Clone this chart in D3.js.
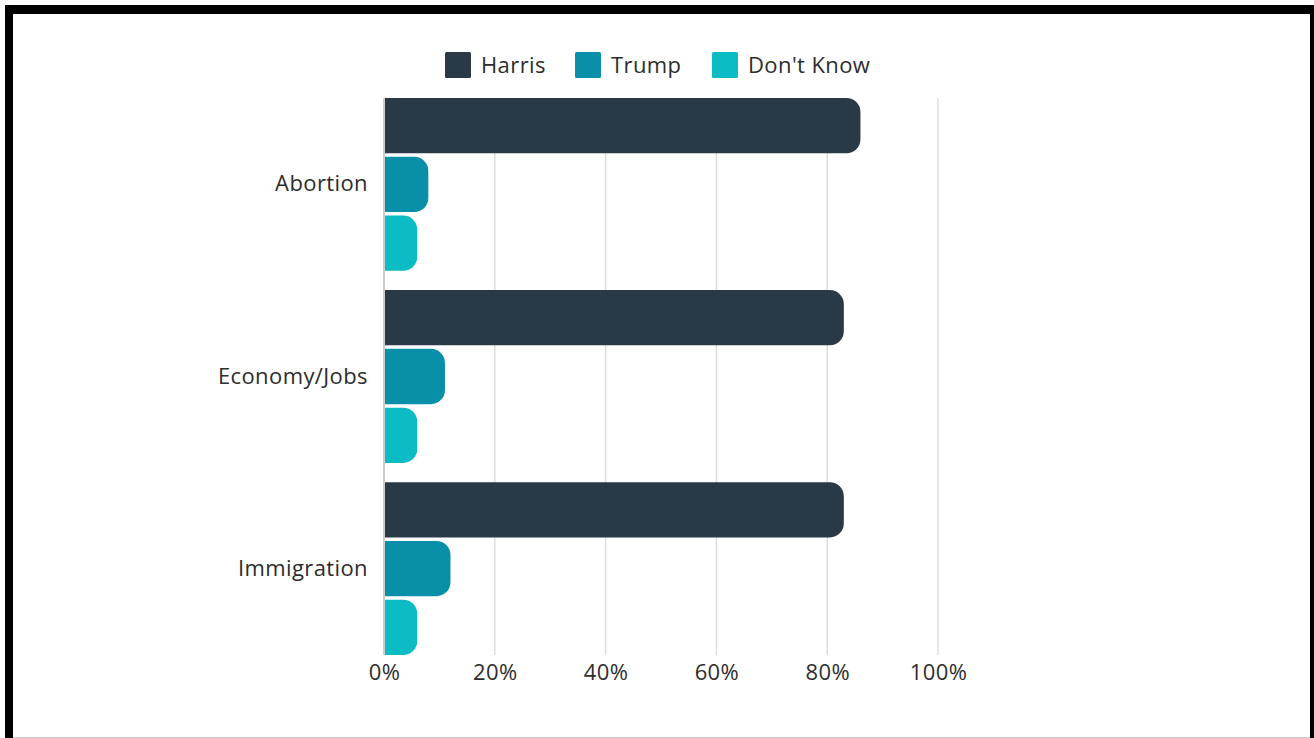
<!DOCTYPE html>
<html>
<head>
<meta charset="utf-8">
<script src="https://cdn.jsdelivr.net/npm/d3@7"></script>
<style>
  html, body { margin: 0; padding: 0; background: #fff; }
  svg { display: block; }
  text { font-family: "Open Sans", "Noto Sans", sans-serif; fill: #2d2d2d; letter-spacing: 0.4px; }
</style>
</head>
<body>
<svg id="chart" width="1314" height="738"></svg>
<script>
// Issues and candidate preference shares (%)
const categories = ["Abortion", "Economy/Jobs", "Immigration"];
const seriesNames = ["Harris", "Trump", "Don't Know"];
const harris = [86, 83, 83];
const trump = [8, 11, 12];
const dontKnow = [6, 6, 6];
const tickValues = [0, 20, 40, 60, 80, 100];
const seriesColors = ["#293a46", "#0a8fa9", "#0bbcc5"];

const rows = categories.map((c, i) => ({
  category: c,
  values: [harris[i], trump[i], dontKnow[i]]
}));

const svg = d3.select("#chart");
const W = 1314, H = 738;
const fontSize = 22;

// Frame
svg.append("rect").attr("x", 0).attr("y", 0).attr("width", W).attr("height", H).attr("fill", "#fff");
svg.append("rect").attr("x", 5).attr("y", 5).attr("width", W - 5).attr("height", 9).attr("fill", "#000");
svg.append("rect").attr("x", 5).attr("y", 5).attr("width", 8).attr("height", H - 5).attr("fill", "#000");
svg.append("rect").attr("x", 1310).attr("y", 5).attr("width", 4).attr("height", H - 5).attr("fill", "#000");
svg.append("rect").attr("x", 13).attr("y", 737).attr("width", 1297).attr("height", 1).attr("fill", "#c8c8c8");

const plot = { left: 384, right: 938, top: 98, bottom: 655 };

const x = d3.scaleLinear().domain([0, 100]).range([plot.left, plot.right]);
const y0 = d3.scaleBand().domain(categories).range([plot.top, plot.bottom]).paddingInner(0.1).paddingOuter(0);
const y1 = d3.scaleBand().domain(seriesNames).range([0, y0.bandwidth()]).paddingInner(0.06);
const color = d3.scaleOrdinal().domain(seriesNames).range(seriesColors);

// Gridlines
svg.append("g")
  .selectAll("line")
  .data(tickValues.filter(t => t > 0))
  .join("line")
  .attr("x1", d => x(d)).attr("x2", d => x(d))
  .attr("y1", plot.top).attr("y2", plot.bottom)
  .attr("stroke", "#dedede").attr("stroke-width", 1.5);

// Bars with rounded right ends
const radius = 14;
function barPath(x0, yTop, w, h) {
  const r = Math.min(radius, w, h / 2);
  return `M${x0},${yTop}H${x0 + w - r}A${r},${r} 0 0 1 ${x0 + w},${yTop + r}` +
         `V${yTop + h - r}A${r},${r} 0 0 1 ${x0 + w - r},${yTop + h}H${x0}Z`;
}

const groups = svg.append("g")
  .selectAll("g")
  .data(rows)
  .join("g")
  .attr("transform", d => `translate(0,${y0(d.category)})`);

groups.selectAll("path")
  .data(d => d.values.map((v, i) => ({ key: seriesNames[i], value: v })))
  .join("path")
  .attr("d", d => barPath(x(0) + 1, y1(d.key), x(d.value) - x(0) - 1, y1.bandwidth()))
  .attr("fill", d => color(d.key));

// Y axis baseline
svg.append("line")
  .attr("x1", plot.left).attr("x2", plot.left)
  .attr("y1", plot.top).attr("y2", plot.bottom)
  .attr("stroke", "#bdbdbd").attr("stroke-width", 1.5);

// X axis
const xAxis = svg.append("g")
  .attr("transform", `translate(0,${plot.bottom})`)
  .call(d3.axisBottom(x).tickValues(tickValues).tickFormat(d => d + "%").tickSize(0).tickPadding(9));
xAxis.select(".domain").remove();
xAxis.selectAll("text").attr("font-size", fontSize).attr("fill", "#2d2d2d")
  .style("font-family", '"Open Sans", "Noto Sans", sans-serif');

// Y axis labels
const yAxis = svg.append("g")
  .attr("transform", `translate(${plot.left},0)`)
  .call(d3.axisLeft(y0).tickSize(0).tickPadding(16));
yAxis.select(".domain").remove();
yAxis.selectAll("text").attr("font-size", fontSize).attr("fill", "#2d2d2d")
  .style("font-family", '"Open Sans", "Noto Sans", sans-serif');

// Legend
const legendItems = [
  { name: seriesNames[0], x: 445 },
  { name: seriesNames[1], x: 575 },
  { name: seriesNames[2], x: 712 }
];
const legend = svg.append("g")
  .selectAll("g")
  .data(legendItems)
  .join("g")
  .attr("transform", d => `translate(${d.x},52)`);
legend.append("rect")
  .attr("width", 26).attr("height", 26).attr("rx", 1.5)
  .attr("fill", d => color(d.name));
legend.append("text")
  .attr("x", 36).attr("y", 13).attr("dy", "0.35em")
  .attr("font-size", fontSize)
  .text(d => d.name);
</script>
</body>
</html>
